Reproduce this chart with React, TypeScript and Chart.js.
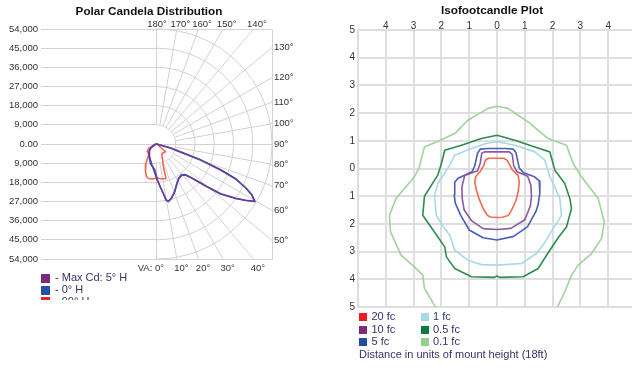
import React, { useEffect, useRef } from 'react';
import { Chart, registerables } from 'chart.js';

Chart.register(...registerables);

const FONT = "'Liberation Sans', Arial, Helvetica, sans-serif";
const TEXT = '#333333';
const TITLE_COLOR = '#111111';
const LEGEND_TEXT = '#33336b';
const POLAR_GRID = '#d2d2d2';
const ISO_GRID = '#dedede';

// ---------------- Polar Candela Distribution ----------------
const polarTitle = 'Polar Candela Distribution';
const candelaTicks = [-54000, -45000, -36000, -27000, -18000, -9000, 0, 9000, 18000, 27000, 36000, 45000, 54000];
const candelaTickLabels = ['54,000', '45,000', '36,000', '27,000', '18,000', '9,000', '0.00', '9,000', '18,000', '27,000', '36,000', '45,000', '54,000'];
const candelaRings = [9000, 18000, 27000, 36000, 45000, 54000];
const verticalAngles = [0, 10, 20, 30, 40, 50, 60, 70, 80, 90, 100, 110, 120, 130, 140, 150, 160, 170, 180];
const polarSeriesLabels = ['Max Cd: 5° H', '0° H', '90° H'];
const polarLineColors = ['#6a3d9a', '#4862c6', '#f26a50'];
const polarLegendColors = ['#7b2a80', '#2550a8', '#ee2222'];

// vertical angle (deg, 0 = nadir, negative = opposite half-plane) and candela
const maxCdAngles = [90, 74.1, 71.6, 70.0, 67.9, 66.1, 63.7, 61.8, 59.6, 57.6, 55.4, 52.0, 49.4, 46.2, 43.1, 38.4, 32.2, 26.0, 20.6, 15.5, 11.8, 9.6, 8.0, 5.3, 1.1, -1.9, -5.9, -12.1, -20.6, -36.9, -52.4, -63.4, -78.7, -90];
const maxCdValues = [0, 6840, 11880, 21990, 32440, 40580, 46620, 50640, 53360, 49500, 45070, 38140, 30310, 23410, 19930, 18890, 19410, 21420, 24070, 26320, 27580, 26670, 23710, 20510, 16910, 14570, 12280, 10090, 8030, 5870, 3850, 2100, 720, 0];

const h0Angles = [90, 74.1, 71.6, 70.0, 67.9, 66.1, 63.7, 61.8, 59.6, 57.6, 55.4, 52.0, 49.4, 46.2, 43.1, 38.4, 32.2, 26.0, 20.6, 15.5, 11.8, 9.6, 8.0, 5.3, 1.6, -1.0, -4.6, -10.1, -16.7, -25.0, -38.7, -49.4, -56.3, -63.4, -90];
const h0Values = [0, 6900, 11950, 22100, 32500, 40600, 46600, 50600, 53200, 49300, 44900, 38000, 30200, 23300, 19700, 18500, 19200, 21300, 24000, 26300, 27500, 26600, 23700, 20500, 16910, 14090, 11780, 10730, 9810, 7770, 6010, 4330, 2540, 1050, 0];

const h90Angles = [-90, -60.8, -50.4, -35.0, -32.7, -27.7, -22.2, -17.1, -13.1, -6.5, 0.8, 8.1, 15.4, 15.9, 17.2, 23.2, 30.1, 49.4, 48.8, 63, 90];
const h90Values = [0, 4140, 5670, 5330, 7820, 10610, 13690, 15970, 16630, 16540, 15970, 16600, 16800, 13670, 10320, 7150, 5150, 5560, 2500, 530, 0];

// ---------------- Isofootcandle Plot ----------------
const isoTitle = 'Isofootcandle Plot';
const isoTicks = [-5, -4, -3, -2, -1, 0, 1, 2, 3, 4, 5];
const isoXTickLabels = ['', '4', '3', '2', '1', '0', '1', '2', '3', '4', ''];
const isoYTickLabels = ['5', '4', '3', '2', '1', '0', '1', '2', '3', '4', '5'];
const isoLabels = ['20 fc', '10 fc', '5 fc', '1 fc', '0.5 fc', '0.1 fc'];
const isoLineColors = ['#f26a4e', '#8c5aa2', '#4a5cba', '#a8d8e6', '#2e8b4e', '#9fd49a'];
const isoLegendColors = ['#ed1c24', '#7b2c80', '#214da0', '#a6d9e6', '#0b7c3e', '#94cf8c'];
const isoFootnote = 'Distance in units of mount height (18ft)';

const fc20X = [0, 0.25, 0.36, 0.46, 0.55, 0.76, 0.8, 0.76, 0.7, 0.62, 0.5, 0.4, 0.2, 0, -0.25, -0.35, -0.47, -0.58, -0.66, -0.75, -0.8, -0.76, -0.58, -0.48, -0.42, -0.3, 0];
const fc20Y = [0.37, 0.37, 0.3, 0.12, -0.05, -0.25, -0.5, -0.85, -1.1, -1.3, -1.55, -1.7, -1.76, -1.77, -1.75, -1.68, -1.5, -1.25, -1.05, -0.75, -0.48, -0.28, -0.08, 0.1, 0.3, 0.37, 0.37];

const fc10X = [0, 0.45, 0.55, 0.6, 0.72, 1.1, 1.22, 1.24, 1.2, 1.0, 0.5, 0, -0.5, -0.92, -1.18, -1.25, -1.26, -1.16, -0.7, -0.6, -0.55, -0.45, 0];
const fc10Y = [0.6, 0.6, 0.5, 0.1, -0.12, -0.28, -0.6, -1.0, -1.35, -1.85, -2.16, -2.2, -2.17, -1.88, -1.5, -1.1, -0.65, -0.25, -0.08, 0.2, 0.55, 0.6, 0.6];

const fc5X = [0, 0.3, 0.58, 0.68, 0.74, 0.8, 0.95, 1.35, 1.52, 1.54, 1.48, 1.4, 1.1, 0.6, 0, -0.5, -1.0, -1.3, -1.5, -1.54, -1.52, -1.4, -0.9, -0.8, -0.7, -0.6, -0.3, 0];
const fc5Y = [0.72, 0.72, 0.7, 0.58, 0.3, 0.02, -0.15, -0.3, -0.45, -0.9, -1.3, -1.55, -2.1, -2.45, -2.58, -2.5, -2.22, -1.7, -1.25, -0.95, -0.5, -0.35, -0.12, 0.1, 0.55, 0.7, 0.72, 0.72];

const fc1X = [0, 0.64, 1.36, 1.72, 1.9, 2.05, 2.26, 2.32, 2.02, 1.7, 1.42, 0.88, 0, -0.56, -1.05, -1.52, -1.7, -2.0, -2.18, -2.25, -2.13, -1.9, -1.7, -1.52, -0.92, -0.4, 0];
const fc1Y = [0.97, 0.84, 0.6, 0.3, -0.3, -0.6, -1.08, -1.69, -2.17, -2.7, -3.07, -3.43, -3.49, -3.47, -3.31, -2.95, -2.41, -2.0, -1.69, -1.0, -0.54, -0.2, 0.12, 0.48, 0.72, 0.9, 0.97];

const fc05X = [0, 0.64, 1.36, 1.9, 2.08, 2.44, 2.62, 2.68, 2.5, 2.2, 1.9, 1.48, 0.94, 0.1, 0, -0.1, -0.92, -1.52, -1.82, -1.88, -2.25, -2.67, -2.61, -2.13, -2.0, -1.88, -1.28, -0.56, 0];
const fc05Y = [1.2, 1.02, 0.78, 0.6, -0.06, -0.54, -1.08, -1.44, -2.11, -2.5, -2.95, -3.61, -3.91, -3.93, -3.88, -3.93, -3.91, -3.61, -3.19, -2.83, -2.29, -1.69, -1.0, -0.24, 0.18, 0.66, 0.84, 1.08, 1.2];

const fc01X = [-2.05, -2.25, -2.61, -2.67, -2.97, -3.45, -3.83, -3.87, -3.63, -2.97, -2.79, -2.61, -2.18, -1.52, -1.05, -0.32, 0, 0.4, 1.12, 1.84, 2.5, 2.74, 3.04, 3.64, 3.86, 3.76, 3.4, 2.92, 2.68, 2.44, 2.2, 2.1];
const fc01Y = [-5.3, -4.94, -4.33, -3.85, -3.55, -3.13, -2.29, -1.69, -1.08, -0.3, 0.06, 0.78, 0.96, 1.26, 1.74, 2.17, 2.25, 2.17, 1.68, 1.08, 0.84, 0.18, -0.3, -1.08, -1.93, -2.53, -3.07, -3.49, -3.85, -4.45, -4.94, -5.3];

const isoSeries = [
  [fc20X, fc20Y],
  [fc10X, fc10Y],
  [fc5X, fc5Y],
  [fc1X, fc1Y],
  [fc05X, fc05Y],
  [fc01X, fc01Y],
];

const polarSeries = [
  [maxCdAngles, maxCdValues],
  [h0Angles, h0Values],
  [h90Angles, h90Values],
];

const toXY = (angles: number[], values: number[]) =>
  angles.map((a, i) => {
    const t = (a * Math.PI) / 180;
    return { x: values[i] * Math.sin(t), y: -values[i] * Math.cos(t) };
  });

const crisp = (v: number) => Math.round(v - 0.5) + 0.5;

const polarPlugin = {
  id: 'polarFrame',
  beforeDatasetsDraw(chart: any) {
    const { ctx, chartArea: a } = chart;
    const xs = chart.scales.x;
    const ys = chart.scales.y;
    const cx = xs.getPixelForValue(0);
    const cy = ys.getPixelForValue(0);
    const P = (vx: number, vy: number) => [xs.getPixelForValue(vx), ys.getPixelForValue(vy)];
    ctx.save();
    ctx.strokeStyle = POLAR_GRID;
    ctx.lineWidth = 1;
    ctx.beginPath();
    candelaTicks.forEach((v) => {
      const py = crisp(ys.getPixelForValue(v));
      ctx.moveTo(a.left, py);
      ctx.lineTo(cx, py);
    });
    ctx.stroke();
    candelaRings.forEach((r) => {
      const rx = xs.getPixelForValue(r) - cx;
      const ry = cy - ys.getPixelForValue(r);
      ctx.beginPath();
      ctx.ellipse(cx, cy, rx, ry, 0, -Math.PI / 2, Math.PI / 2);
      ctx.stroke();
    });
    const inner = candelaRings[0];
    const lim = candelaTicks[candelaTicks.length - 1];
    ctx.beginPath();
    verticalAngles.forEach((d) => {
      const t = (d * Math.PI) / 180;
      const s = Math.sin(t);
      const c = -Math.cos(t);
      const k = lim / Math.max(Math.abs(s), Math.abs(c));
      const r0 = d === 90 ? 0 : inner;
      const [x0, y0] = P(r0 * s, r0 * c);
      const [x1, y1] = P(k * s, k * c);
      ctx.moveTo(x0, d === 90 ? crisp(y0) : y0);
      ctx.lineTo(x1, d === 90 ? crisp(y1) : y1);
    });
    ctx.stroke();
    const top = crisp(a.top);
    const bot = crisp(a.bottom);
    const right = crisp(a.right);
    ctx.beginPath();
    ctx.moveTo(cx, top);
    ctx.lineTo(right, top);
    ctx.lineTo(right, bot);
    ctx.lineTo(cx, bot);
    ctx.stroke();
    ctx.restore();
  },
  afterDraw(chart: any) {
    const { ctx, chartArea: a } = chart;
    const xs = chart.scales.x;
    const ys = chart.scales.y;
    const lim = candelaTicks[candelaTicks.length - 1];
    ctx.save();
    ctx.font = `9.5px ${FONT}`;
    ctx.fillStyle = TEXT;
    ctx.textBaseline = 'middle';
    verticalAngles.forEach((d) => {
      const t = (d * Math.PI) / 180;
      const s = Math.sin(t);
      const c = -Math.cos(t);
      const k = lim / Math.max(Math.abs(s), Math.abs(c));
      const ex = xs.getPixelForValue(k * s);
      const ey = ys.getPixelForValue(k * c);
      const txt = `${d}°`;
      if (d < 45) {
        if (d === 0) {
          ctx.textAlign = 'right';
          ctx.fillText('VA: ' + txt, ex + 3 + ctx.measureText(txt).width / 2, a.bottom + 9.5);
        } else {
          ctx.textAlign = 'center';
          ctx.fillText(txt, ex + 4.5, a.bottom + 9.5);
        }
      } else if (d > 135) {
        ctx.textAlign = 'center';
        ctx.fillText(txt, ex + (d === 180 ? 0.5 : 3.5), a.top - 5);
      } else {
        ctx.textAlign = 'left';
        ctx.fillText(txt, a.right + 2, ey);
      }
    });
    ctx.font = `11px ${FONT}`;
    ctx.textAlign = 'left';
    chart.data.datasets.forEach((ds: any, i: number) => {
      const yc = a.bottom + 19.3 + i * 11.7;
      ctx.fillStyle = polarLegendColors[i];
      ctx.fillRect(a.left, Math.round(yc - 4.5), 9, 9);
      ctx.fillStyle = LEGEND_TEXT;
      ctx.fillText('- ' + ds.label, a.left + 14, yc);
    });
    ctx.restore();
  },
};

const isoLegendPlugin = {
  id: 'isoLegend',
  afterDraw(chart: any) {
    const { ctx, chartArea: a } = chart;
    ctx.save();
    ctx.font = `11px ${FONT}`;
    ctx.textBaseline = 'middle';
    ctx.textAlign = 'left';
    chart.data.datasets.forEach((ds: any, i: number) => {
      const col = Math.floor(i / 3);
      const row = i % 3;
      const bx = a.left + 1 + col * 61.5;
      const yc = a.bottom + 10 + row * 12.5;
      ctx.fillStyle = isoLegendColors[i];
      ctx.fillRect(Math.round(bx), Math.round(yc - 4), 8, 8);
      ctx.fillStyle = LEGEND_TEXT;
      ctx.fillText(ds.label, bx + 12.5, yc);
    });
    ctx.fillStyle = LEGEND_TEXT;
    ctx.fillText(isoFootnote, a.left + 1, a.bottom + 47.5);
    ctx.restore();
  },
};

export default function App() {
  const leftRef = useRef<HTMLCanvasElement | null>(null);
  const rightRef = useRef<HTMLCanvasElement | null>(null);

  useEffect(() => {
    const leftChart = new Chart(leftRef.current as HTMLCanvasElement, {
      type: 'scatter',
      data: {
        datasets: polarSeries.map(([angles, values], i) => ({
          label: polarSeriesLabels[i],
          data: toXY(angles as number[], values as number[]),
          showLine: true,
          borderColor: polarLineColors[i],
          backgroundColor: polarLegendColors[i],
          borderWidth: 1.6,
          pointRadius: 0,
          tension: 0,
          fill: false,
          borderJoinStyle: 'round',
          xAxisID: 'x',
          yAxisID: 'y',
        })),
      },
      options: {
        responsive: false,
        animation: false,
        events: [],
        layout: { padding: { top: 0, left: 0, right: 0, bottom: 41 } },
        plugins: {
          legend: { display: false },
          tooltip: { enabled: false },
          title: {
            display: true,
            text: polarTitle,
            color: TITLE_COLOR,
            font: { family: FONT, size: 11.7, weight: 'bold', lineHeight: 1.2 },
            padding: { top: 5, bottom: 9.96 },
          },
        },
        scales: {
          x: { type: 'linear', min: -54000, max: 54000, display: false },
          y: {
            type: 'linear',
            position: 'left',
            min: -54000,
            max: 54000,
            afterBuildTicks: (s: any) => {
              s.ticks = candelaTicks.map((v) => ({ value: v }));
            },
            afterFit: (s: any) => {
              s.width = 41;
            },
            grid: { display: false, drawTicks: false },
            border: { display: false },
            ticks: {
              padding: 3,
              color: TEXT,
              font: { family: FONT, size: 9.5 },
              callback: (_v: any, i: number) => candelaTickLabels[i],
            },
          },
          yRight: {
            type: 'linear',
            position: 'right',
            display: true,
            afterFit: (s: any) => {
              s.width = 26;
            },
            grid: { display: false, drawTicks: false },
            border: { display: false },
            ticks: { display: false },
          },
        },
      } as any,
      plugins: [polarPlugin],
    });

    const rightChart = new Chart(rightRef.current as HTMLCanvasElement, {
      type: 'scatter',
      data: {
        datasets: isoSeries.map(([xs, ys], i) => ({
          label: isoLabels[i],
          data: xs.map((x, j) => ({ x, y: ys[j] })),
          showLine: true,
          borderColor: isoLineColors[i],
          backgroundColor: isoLegendColors[i],
          borderWidth: 1.6,
          pointRadius: 0,
          tension: 0,
          fill: false,
          borderJoinStyle: 'round',
          xAxisID: 'x',
          yAxisID: 'y',
        })),
      },
      options: {
        responsive: false,
        animation: false,
        events: [],
        layout: { padding: { top: 0, left: 0, right: 0, bottom: 61 } },
        plugins: {
          legend: { display: false },
          tooltip: { enabled: false },
          title: {
            display: true,
            text: isoTitle,
            color: TITLE_COLOR,
            font: { family: FONT, size: 11.8, weight: 'bold', lineHeight: 1.2 },
            padding: { top: 4, bottom: 0 },
          },
        },
        scales: {
          x: {
            type: 'linear',
            position: 'top',
            min: -5,
            max: 5,
            afterBuildTicks: (s: any) => {
              s.ticks = isoTicks.map((v) => ({ value: v }));
            },
            afterFit: (s: any) => {
              s.height = 30 - (4 + 11.8 * 1.2);
            },
            grid: { color: ISO_GRID, lineWidth: 2, drawTicks: false },
            border: { color: ISO_GRID, width: 2 },
            ticks: {
              padding: -2,
              maxRotation: 0,
              color: TEXT,
              font: { family: FONT, size: 10 },
              callback: (_v: any, i: number) => isoXTickLabels[i],
            },
          },
          y: {
            type: 'linear',
            position: 'left',
            min: -5,
            max: 5,
            afterBuildTicks: (s: any) => {
              s.ticks = isoTicks.map((v) => ({ value: v }));
            },
            afterFit: (s: any) => {
              s.width = 42;
            },
            grid: { color: ISO_GRID, lineWidth: 2, drawTicks: false },
            border: { color: ISO_GRID, width: 2 },
            ticks: {
              padding: 3,
              color: TEXT,
              font: { family: FONT, size: 10 },
              callback: (_v: any, i: number) => isoYTickLabels[i],
            },
          },
          yRight: {
            type: 'linear',
            position: 'right',
            display: true,
            afterFit: (s: any) => {
              s.width = 32;
            },
            grid: { display: false, drawTicks: false },
            border: { display: false },
            ticks: { display: false },
          },
        },
      } as any,
      plugins: [isoLegendPlugin],
    });

    return () => {
      leftChart.destroy();
      rightChart.destroy();
    };
  }, []);

  return (
    <div
      style={{
        position: 'fixed',
        left: 0,
        top: 0,
        width: 632,
        height: 368,
        overflow: 'hidden',
        background: '#ffffff',
      }}
    >
      <div style={{ position: 'absolute', left: 0, top: 0, width: 298, height: 300, overflow: 'hidden' }}>
        <canvas ref={leftRef} width={298} height={300} style={{ width: 298, height: 300, display: 'block' }} />
      </div>
      <div style={{ position: 'absolute', left: 316, top: 0, width: 352, height: 368 }}>
        <canvas ref={rightRef} width={352} height={368} style={{ width: 352, height: 368, display: 'block' }} />
      </div>
    </div>
  );
}
